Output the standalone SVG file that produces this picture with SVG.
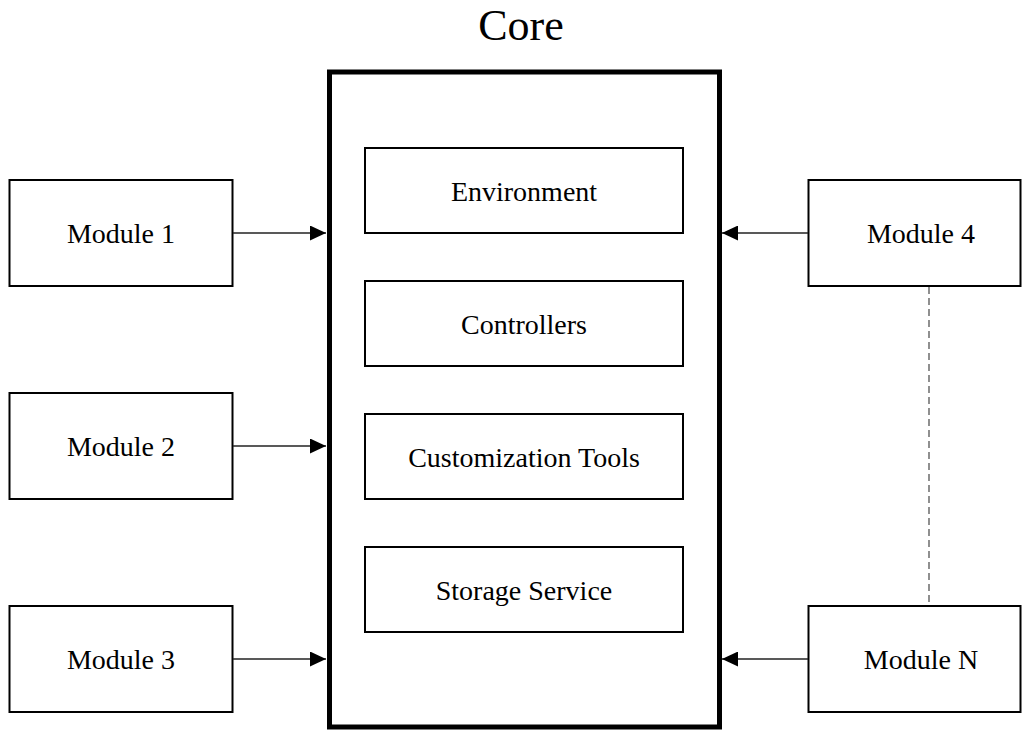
<svg xmlns="http://www.w3.org/2000/svg" width="1023" height="731" viewBox="0 0 1023 731">
<style>
.box{fill:#fff;stroke:#000;stroke-width:2}
.core{fill:#fff;stroke:#000;stroke-width:5}
.lbl{font-family:"Liberation Serif","Times New Roman",serif;font-size:28px;text-anchor:middle;fill:#000}
.title{font-family:"Liberation Serif","Times New Roman",serif;font-size:44px;text-anchor:middle;fill:#000}
.conn{stroke:#222;stroke-width:1.3;fill:none}
.dash{stroke:#555;stroke-width:1.3;fill:none;stroke-dasharray:7,4}
</style>
<defs>
<marker id="ah" viewBox="0 0 16 15" refX="16" refY="7.5" markerWidth="16" markerHeight="15" markerUnits="userSpaceOnUse" orient="auto">
<path d="M0,0 L16,7.5 L0,15 Z" fill="#000"/>
</marker>
</defs>
<rect width="1023" height="731" fill="#fff"/>
<g id="core">
<rect class="core" x="329.5" y="72" width="390" height="655"/>
<text class="title" x="521" y="39.5">Core</text>
</g>
<g id="environment"><rect class="box" x="365" y="148" width="318" height="85"/><text class="lbl" x="524" y="201">Environment</text></g>
<g id="controllers"><rect class="box" x="365" y="281" width="318" height="85"/><text class="lbl" x="524" y="334">Controllers</text></g>
<g id="customization"><rect class="box" x="365" y="414" width="318" height="85"/><text class="lbl" x="524" y="467">Customization Tools</text></g>
<g id="storage"><rect class="box" x="365" y="547" width="318" height="85"/><text class="lbl" x="524" y="600">Storage Service</text></g>
<g id="module1"><rect class="box" x="9.5" y="180" width="223" height="106"/><text class="lbl" x="121" y="243">Module 1</text></g>
<g id="module2"><rect class="box" x="9.5" y="393" width="223" height="106"/><text class="lbl" x="121" y="456">Module 2</text></g>
<g id="module3"><rect class="box" x="9.5" y="606" width="223" height="106"/><text class="lbl" x="121" y="669">Module 3</text></g>
<g id="module4"><rect class="box" x="808.5" y="180" width="212" height="106"/><text class="lbl" x="921" y="243">Module 4</text></g>
<g id="moduleN"><rect class="box" x="808.5" y="606" width="212" height="106"/><text class="lbl" x="921" y="669">Module N</text></g>
<g id="connectors">
<line class="conn" x1="233" y1="233" x2="326" y2="233" marker-end="url(#ah)"/>
<line class="conn" x1="233" y1="446" x2="326" y2="446" marker-end="url(#ah)"/>
<line class="conn" x1="233" y1="659" x2="326" y2="659" marker-end="url(#ah)"/>
<line class="conn" x1="808" y1="233" x2="722" y2="233" marker-end="url(#ah)"/>
<line class="conn" x1="808" y1="659" x2="722" y2="659" marker-end="url(#ah)"/>
<line class="dash" x1="929" y1="287" x2="929" y2="605"/>
</g>
</svg>
